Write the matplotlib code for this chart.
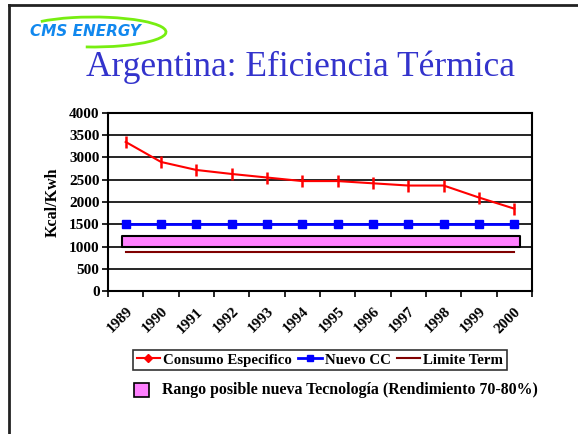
import matplotlib
matplotlib.use("Agg")
import matplotlib.pyplot as plt
import matplotlib.transforms as mtransforms
from matplotlib.lines import Line2D
from matplotlib.patches import Rectangle, Arc

# ── Data ──────────────────────────────────────────────────────────────
years = ["1989", "1990", "1991", "1992", "1993", "1994",
         "1995", "1996", "1997", "1998", "1999", "2000"]
consumo = [3350, 2900, 2720, 2630, 2550, 2470,
           2470, 2420, 2370, 2370, 2100, 1850]
nuevo_cc = [1500] * 12
limite_term = [880] * 12
rango_lo, rango_hi = 980, 1240
y_ticks = [0, 500, 1000, 1500, 2000, 2500, 3000, 3500, 4000]

SERIF = ["Liberation Serif", "DejaVu Serif"]
W, H = 578, 434

fig = plt.figure(figsize=(W / 100, H / 100), dpi=100)
fig.patch.set_facecolor("white")

# slide frame (top / left edges only visible)
fig.add_artist(Line2D([9 / W, 1], [1 - 5 / H, 1 - 5 / H], color="#222222",
                      lw=2, transform=fig.transFigure))
fig.add_artist(Line2D([9 / W, 9 / W], [0, 1 - 5 / H], color="#222222",
                      lw=2, transform=fig.transFigure))

# logo
fig.add_artist(Arc((93 / W, 1 - 32 / H), 146 / W, 30 / H, theta1=-110, theta2=165,
                   color="#77ee11", lw=2, transform=fig.transFigure))
fig.text(85 / W, 1 - 32 / H, "CMS ENERGY", color="#1188ee", fontsize=11,
         fontweight="bold", style="italic", ha="center", va="center",
         family="DejaVu Sans")

# title
fig.text(300 / W, 1 - 67 / H, "Argentina: Eficiencia Térmica", color="#3333cc",
         fontsize=25.5, ha="center", va="center", family=SERIF)

# ── Axes ──────────────────────────────────────────────────────────────
ax = fig.add_axes([108 / W, 1 - 291 / H, (532 - 108) / W, (291 - 113) / H])
x = list(range(len(years)))

for yv in y_ticks[1:]:
    ax.axhline(yv, color="black", lw=1.2, zorder=1)

ax.fill_between([-0.1, 11.15], rango_lo, rango_hi, facecolor="#ff80ff",
                edgecolor="black", lw=1.5, zorder=2)
ax.plot(x, limite_term, color="#800000", lw=1.5, zorder=3)
ax.plot(x, nuevo_cc, color="#0000ff", lw=2, marker="s", markersize=5.5, zorder=4)
ax.plot(x, consumo, color="#ff0000", lw=1.5, marker="|", markersize=9,
        markeredgewidth=1.8, zorder=5)

ax.set_xlim(-0.5, len(years) - 0.5)
ax.set_ylim(0, 4000)
ax.set_yticks(y_ticks)
ax.set_yticklabels([str(v) for v in y_ticks], fontsize=11, fontweight="bold",
                   family=SERIF)
ax.set_xticks([i - 0.5 for i in range(len(years) + 1)])
ax.set_xticklabels([])
ax.set_xticks(x, minor=True)
ax.set_xticklabels(years, minor=True, rotation=45, ha="right", va="top",
                   rotation_mode="anchor", fontsize=11, fontweight="bold",
                   family=SERIF)
shift = mtransforms.ScaledTranslation(-10 / 100, 0, fig.dpi_scale_trans)
for lbl in ax.get_xticklabels(minor=True):
    lbl.set_transform(lbl.get_transform() + shift)
ax.tick_params(axis="x", which="minor", length=0, pad=10)
ax.tick_params(axis="x", which="major", length=4, width=1.2, direction="out")
ax.tick_params(axis="y", length=4, width=1.2, direction="out", pad=2)
for s in ax.spines.values():
    s.set_linewidth(1.5)
ax.set_ylabel("Kcal/Kwh", fontsize=11.5, fontweight="bold", family=SERIF,
              labelpad=6)

# ── Legends ───────────────────────────────────────────────────────────
handles = [
    Line2D([], [], color="#ff0000", lw=1.5, marker="D", markersize=4),
    Line2D([], [], color="#0000ff", lw=2, marker="s", markersize=4.5),
    Line2D([], [], color="#800000", lw=1.5),
]
leg = fig.legend(handles, ["Consumo Especifico", "Nuevo CC", "Limite Term"],
                 loc="center", bbox_to_anchor=(320 / W, 1 - 360 / H), ncol=3,
                 prop={"family": SERIF, "weight": "bold", "size": 10.7},
                 frameon=True, fancybox=False, edgecolor="black",
                 handlelength=1.6, handletextpad=0.2, columnspacing=0.4,
                 borderpad=0.25)
leg.get_frame().set_linewidth(1.2)

fig.add_artist(Rectangle((134 / W, 1 - 397 / H), 15 / W, 14 / H,
                         facecolor="#ff80ff", edgecolor="black", lw=1.2,
                         transform=fig.transFigure))
fig.text(162 / W, 1 - 390 / H,
         "Rango posible nueva Tecnología (Rendimiento 70-80%)",
         fontsize=11.4, fontweight="bold", family=SERIF, va="center", ha="left")

fig.savefig("out.png", dpi=100)
